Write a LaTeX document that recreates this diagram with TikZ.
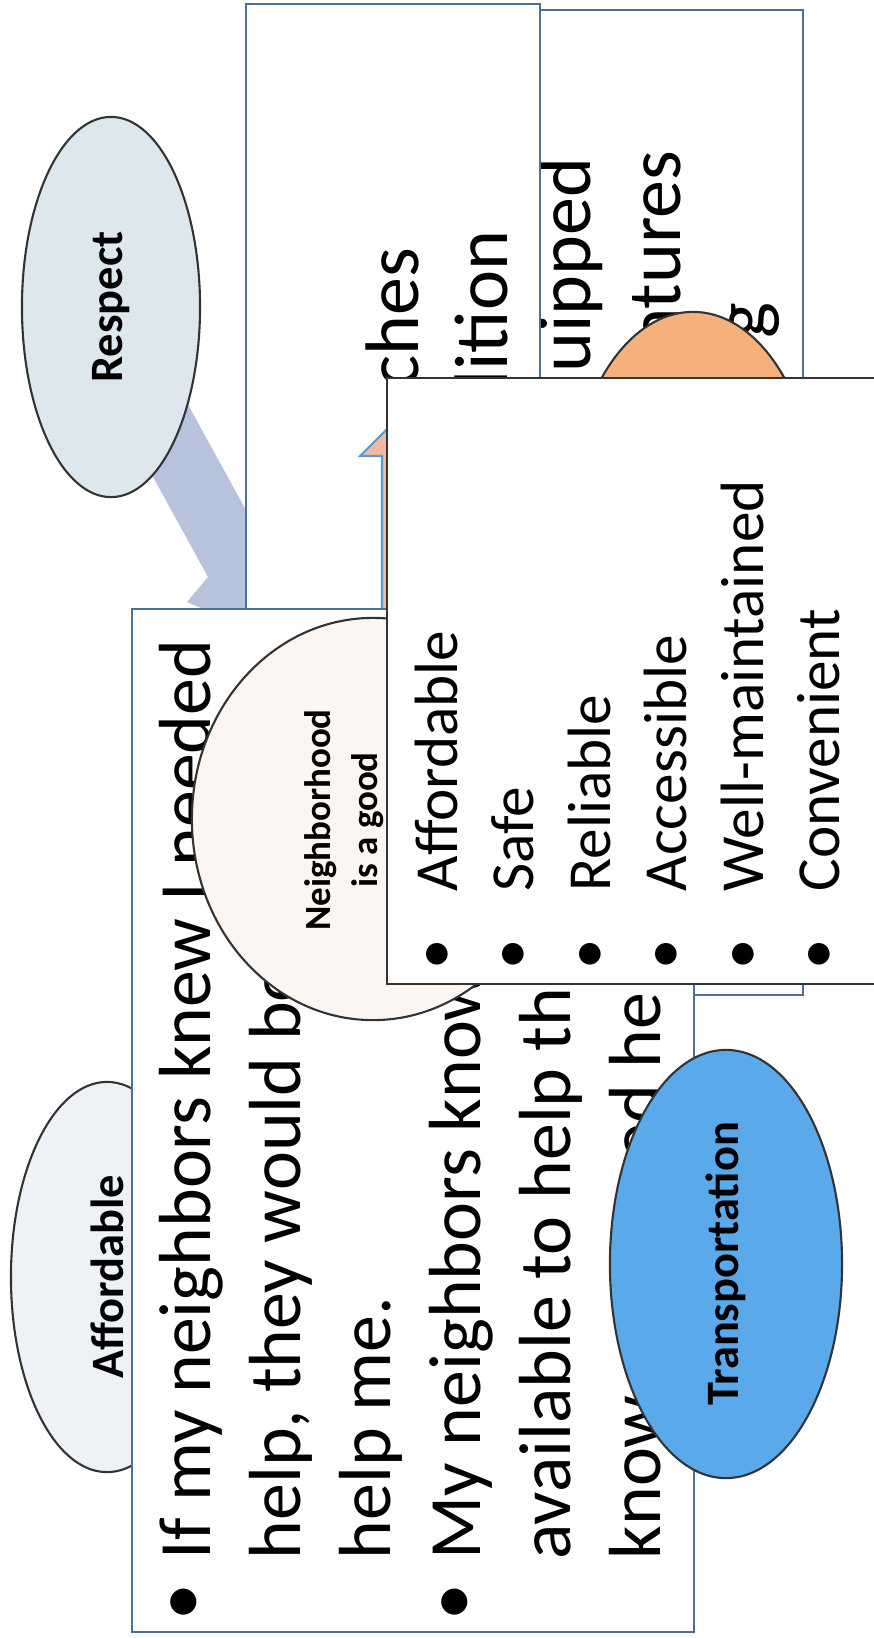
\documentclass[tikz,border=0pt]{standalone}
\usepackage{fontspec}
\setmainfont{Carlito}
\usepackage{tikz}
\usetikzlibrary{shapes.geometric}

\definecolor{respfill}{HTML}{DDE8EE}
\definecolor{respdart}{HTML}{B7C2DD}
\definecolor{affill}{HTML}{EEF2F6}
\definecolor{nbfill}{HTML}{FBF6F2}
\definecolor{trfill}{HTML}{5AA9EA}
\definecolor{orfill}{HTML}{F6B07C}
\definecolor{ordart}{HTML}{F4B8A0}
\definecolor{dartline}{HTML}{5B9BD5}
\definecolor{boxline}{HTML}{4F6F96}
\definecolor{inkline}{HTML}{333333}

\begin{document}
\begin{tikzpicture}[x=0.01cm, y=-0.01cm,
		blob/.style={ellipse, draw=black!80, line width=0.6pt, inner sep=0pt},
		tbox/.style={draw=boxline, fill=white, line width=0.45pt},
		bigtxt/.style={rotate=90, anchor=base west, inner sep=0pt, font=\fontsize{21}{25}\selectfont},
		toptxt/.style={rotate=90, anchor=base east, inner sep=0pt, font=\fontsize{21.6}{26}\selectfont},
		listtxt/.style={rotate=90, anchor=base west, inner sep=0pt, font=\fontsize{17.4}{21}\selectfont},
		lbl/.style={font=\bfseries\fontsize{13.2}{16}\selectfont}
	]
	\useasboundingbox[fill=white] (0,0) rectangle (874,1638);

	% grey-blue dart out of Respect
	\fill[respdart] (124.1,424.4) -- (208.0,576.9) -- (187.0,602.1) -- (281.0,641.7)
		-- (297.8,541.1) -- (265.3,545.3) -- (181.5,392.8) -- cycle;
	\node[blob, fill=respfill, minimum width=1.78cm, minimum height=3.80cm, lbl] (resp) at (111,307) {\rotatebox{90}{Respect}};

	% box at the back, right
	\draw[tbox] (540,10) rectangle (803,995);
	\node[toptxt] (t3) at (590,157) {uipped};
	\node[toptxt] (t4) at (680,150) {atures};
	\node[toptxt] (t5) at (766,302) {g};
	\node[blob, fill=orfill, minimum width=2.46cm, minimum height=4.00cm] (orb) at (693,512) {};

	% box at the back, left
	\draw[tbox] (246,4) rectangle (540,700);
	\node[toptxt] (t1) at (418,247) {ches};
	\node[toptxt] (t2) at (507,230) {dition};

	% orange dart
	\draw[fill=ordart, draw=dartline, line width=0.6pt] (382,650) -- (382,456) -- (360,456) -- (420,396)
		-- (480,456) -- (458,456) -- (458,650) -- cycle;

	\node[blob, fill=affill, minimum width=1.92cm, minimum height=3.90cm, lbl] (aff) at (107,1277) {\rotatebox{90}{Affordable}};

	% neighbors box
	\draw[tbox] (132,609) rectangle (694,1632);
	\node[bigtxt, anchor=base] (d1) at (205,1602) {\textbullet};
	\node[bigtxt] (l1) at (210,1560) {If my neighbors knew I needed};
	\node[bigtxt] (l2) at (300,1560) {help, they would be};
	\node[bigtxt] (l3) at (390,1560) {help me.};
	\node[bigtxt, anchor=base] (d2) at (475,1602) {\textbullet};
	\node[bigtxt] (l4) at (480,1560) {My neighbors know};
	\node[bigtxt] (l5) at (570,1560) {available to help th};
	\node[bigtxt] (l6) at (660,1560) {know};
	\node[bigtxt, anchor=base east] (l6b) at (660,992) {ed he};

	\node[blob, fill=nbfill, minimum width=3.62cm, minimum height=4.02cm] (nb) at (373,819) {};
	\node[rotate=90, align=center, inner sep=0pt, font=\bfseries\fontsize{10.5}{13.4}\selectfont] (nbtxt) at (344,820) {Neighborhood\\is a good};

	\node[blob, fill=trfill, minimum width=2.32cm, minimum height=4.28cm, lbl] (trans) at (726,1264) {\rotatebox{90}{Transportation}};

	% transport list box
	\draw[draw=inkline, fill=white, line width=0.7pt] (387,378) rectangle (880,984);
	\node[listtxt, anchor=base] (b1) at (454,954) {\textbullet};
	\node[listtxt] (i1) at (457,892) {Affordable};
	\node[listtxt, anchor=base] (b2) at (530.5,954) {\textbullet};
	\node[listtxt] (i2) at (533.5,892) {Safe};
	\node[listtxt, anchor=base] (b3) at (607,954) {\textbullet};
	\node[listtxt] (i3) at (610,892) {Reliable};
	\node[listtxt, anchor=base] (b4) at (683.5,954) {\textbullet};
	\node[listtxt] (i4) at (686.5,892) {Accessible};
	\node[listtxt, anchor=base] (b5) at (760,954) {\textbullet};
	\node[listtxt] (i5) at (763,892) {Well-maintained};
	\node[listtxt, anchor=base] (b6) at (836.5,954) {\textbullet};
	\node[listtxt] (i6) at (839.5,892) {Convenient};
\end{tikzpicture}
\end{document}
